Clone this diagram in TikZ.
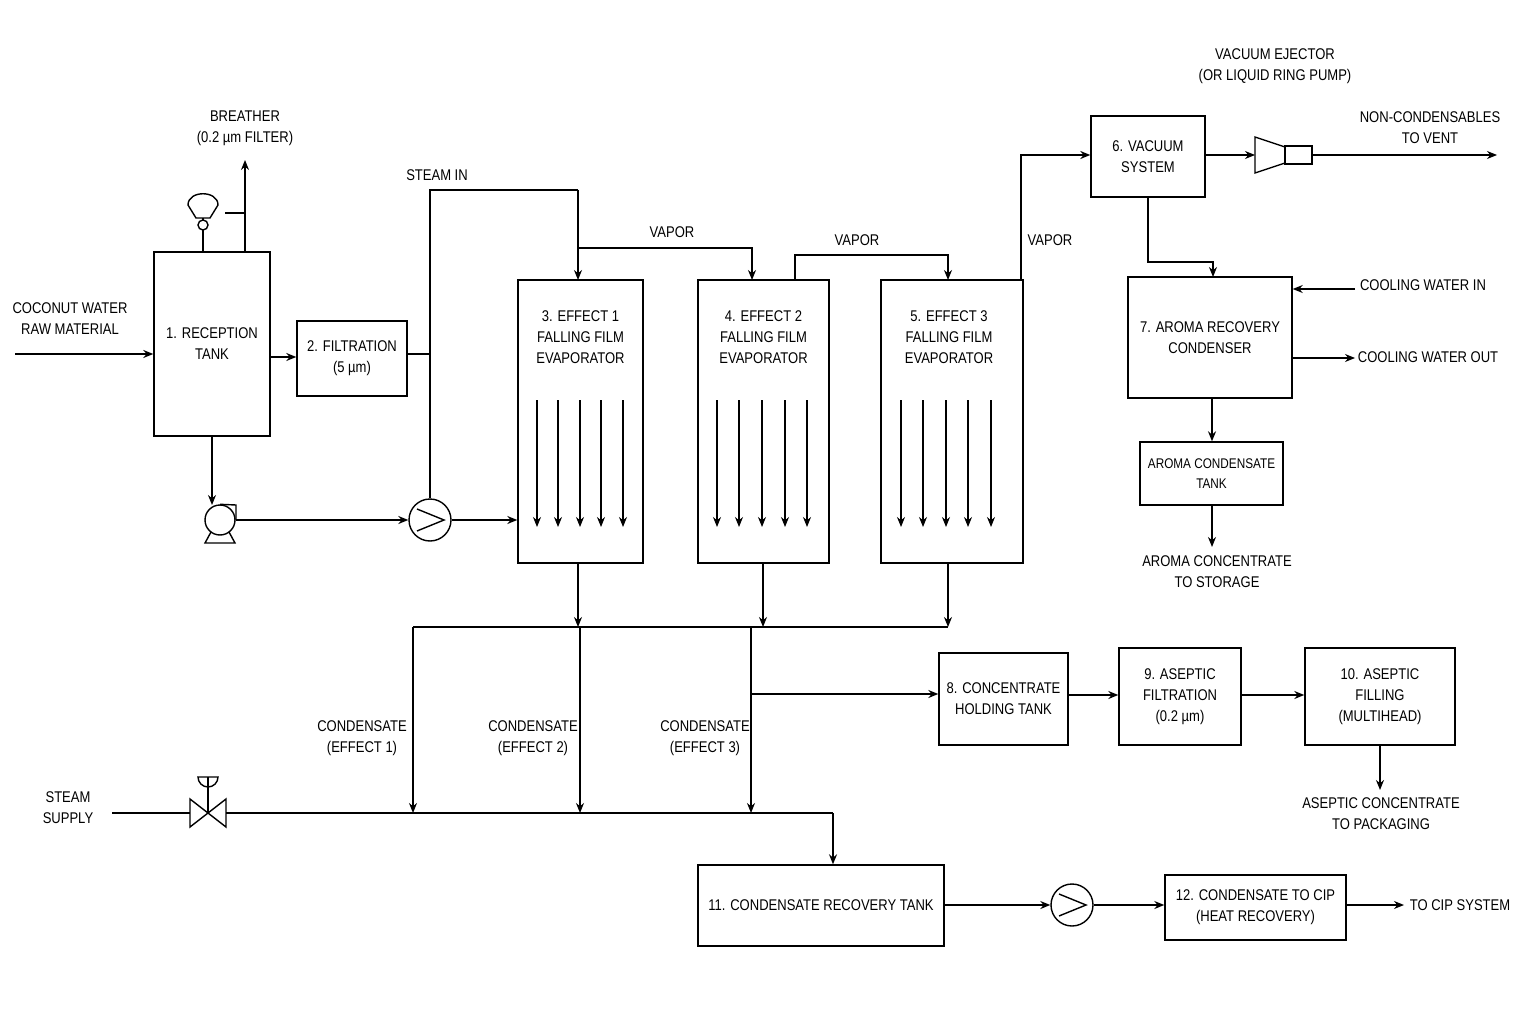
\documentclass[tikz,border=0pt]{standalone}
\usepackage{fontspec}
\setmainfont{Liberation Sans}[FakeStretch=0.84]
\usetikzlibrary{arrows.meta,calc}
\begin{document}
\begin{tikzpicture}[x=1pt,y=-1pt,line width=1.4pt,
 box/.style={draw,align=center,inner sep=0pt},
 lbl/.style={align=center,font=\fontsize{15.5}{21}\selectfont},
 ar/.style={-{Stealth[length=10pt,width=8pt]}},
 every node/.style={font=\fontsize{15.5}{21}\selectfont}]
\useasboundingbox (0,0) rectangle (1536,1024);
\fill[white] (0,0) rectangle (1536,1024);
% boxes
\node[box,minimum width=116pt,minimum height=184pt] (r) at (212,344) {1. RECEPTION\\TANK};
\node[box,minimum width=110pt,minimum height=75pt] (f) at (352,358.5) {2. FILTRATION\\(5 µm)};
\node[box,minimum width=125pt,minimum height=283pt] (e1) at (580.5,421.5) {};
\node[box,minimum width=131pt,minimum height=283pt] (e2) at (763.5,421.5) {};
\node[box,minimum width=142pt,minimum height=283pt] (e3) at (952,421.5) {};
\node[lbl,anchor=north] (e1t) at (580.5,307) {3. EFFECT 1\\FALLING FILM\\EVAPORATOR};
\node[lbl,anchor=north] (e2t) at (763.5,307) {4. EFFECT 2\\FALLING FILM\\EVAPORATOR};
\node[lbl,anchor=north] (e3t) at (949,307) {5. EFFECT 3\\FALLING FILM\\EVAPORATOR};
\foreach \x in {537,558,580,601,623}{\coordinate (a\x) at (\x,400); \coordinate (b\x) at (\x,527); \draw[ar,line width=1.1pt] (a\x) -- (b\x);}
\foreach \x in {717,739,762,785,807}{\coordinate (a\x) at (\x,400); \coordinate (b\x) at (\x,527); \draw[ar,line width=1.1pt] (a\x) -- (b\x);}
\foreach \x in {901,923,946,968,991}{\coordinate (a\x) at (\x,400); \coordinate (b\x) at (\x,527); \draw[ar,line width=1.1pt] (a\x) -- (b\x);}
\node[box,minimum width=114pt,minimum height=81pt] (v) at (1148,156.5) {6. VACUUM\\SYSTEM};
\node[box,minimum width=164pt,minimum height=121pt] (c7) at (1210,337.5) {7. AROMA RECOVERY\\CONDENSER};
\node[box,minimum width=143pt,minimum height=63pt,font=\fontsize{14}{20}\selectfont] (t) at (1211.5,473.5) {AROMA CONDENSATE\\TANK};
\node[box,minimum width=129pt,minimum height=92pt] (b8) at (1003.5,699) {8. CONCENTRATE\\HOLDING TANK};
\node[box,minimum width=122pt,minimum height=97pt] (b9) at (1180,696.5) {9. ASEPTIC\\FILTRATION\\(0.2 µm)};
\node[box,minimum width=150pt,minimum height=97pt] (b10) at (1380,696.5) {10. ASEPTIC\\FILLING\\(MULTIHEAD)};
\node[box,minimum width=246pt,minimum height=81pt] (b11) at (821,905.5) {11. CONDENSATE RECOVERY TANK};
\node[box,minimum width=181pt,minimum height=65pt] (b12) at (1255.5,907.5) {12. CONDENSATE TO CIP\\(HEAT RECOVERY)};
% labels
\node[lbl] (l1) at (70,319) {COCONUT WATER\\RAW MATERIAL};
\node[lbl] (l2) at (245,128) {BREATHER\\(0.2 µm FILTER)};
\node[lbl] (l3) at (437,175) {STEAM IN};
\node[lbl] (l4) at (672,232) {VAPOR};
\node[lbl] (l5) at (857,240) {VAPOR};
\node[lbl] (l6) at (1050,240) {VAPOR};
\node[lbl] (l7) at (1275,66) {VACUUM EJECTOR\\(OR LIQUID RING PUMP)};
\node[lbl] (l8) at (1430,128) {NON-CONDENSABLES\\TO VENT};
\node[lbl] (l9) at (1423,285) {COOLING WATER IN};
\node[lbl] (l10) at (1428,357) {COOLING WATER OUT};
\node[lbl] (l11) at (1217,572) {AROMA CONCENTRATE\\TO STORAGE};
\node[lbl] (l12) at (362,738) {CONDENSATE\\(EFFECT 1)};
\node[lbl] (l13) at (533,738) {CONDENSATE\\(EFFECT 2)};
\node[lbl] (l14) at (705,738) {CONDENSATE\\(EFFECT 3)};
\node[lbl] (l15) at (1381,814) {ASEPTIC CONCENTRATE\\TO PACKAGING};
\node[lbl] (l16) at (68,808) {STEAM\\SUPPLY};
\node[lbl] (l17) at (1460,905) {TO CIP SYSTEM};
% symbols
\node[draw,circle,minimum size=30pt,inner sep=0pt] (p1) at (220,520) {};
\draw (p1.north) -- (236,505) -- (236,520);
\draw (211,532) -- (205,543) -- (235,543) -- (229,532);
\node[draw,circle,minimum size=42pt,inner sep=0pt] (p2) at (430,520) {};
\draw (417,509) -- (444,520) -- (417,531);
\node[draw,circle,minimum size=42pt,inner sep=0pt] (p3) at (1072,905) {};
\draw (1059,894) -- (1086,905) -- (1059,916);
\coordinate (vl) at (208,813);
\draw (190,799) -- (226,827) -- (226,799) -- (190,827) -- cycle;
\draw (vl) -- (208,777);
\draw (198,777) arc (180:0:10) -- cycle;
% breather
\draw (188,205) .. controls (188,190) and (218,190) .. (218,205) -- (210,218) -- (196,218) -- cycle;
\draw (203,225) circle (5);
\draw (203,218) -- (203,220) (203,230) -- (203,252);
% ejector
\coordinate (ej) at (1255,155);
\draw (1255,137) -- (1285,147) -- (1285,163) -- (1255,173) -- cycle;
\draw (1285,146) rectangle (1312,164);
% connectors
\coordinate (in) at (15,354);
\draw[ar] (in) -- (r.west |- in);
\draw[ar] (245,252) -- (245,160);
\draw (225,213) -- (245,213);
\draw[ar] (r.east |- 0,357) -- (f.west |- 0,357);
\draw (f.east |- 0,354) -- (p2.north |- 0,354);
\draw (p2.north) -- (p2.north |- 0,190) -- (578,190);
\draw[ar] (578,190) -- (578,280);
\draw[ar] (r.south) -- (212,505);
\draw[ar] (p1.east) -- (p2.west);
\draw[ar] (p2.east) -- (e1.west |- p2.east);
\draw[ar] (578,248) -- (752,248) -- (752,280);
\draw[ar] (795,280) -- (795,255) -- (948,255) -- (948,280);
\draw[ar] (1021,280) -- (1021,155) -- (v.west |- 0,155);
\draw[ar] (v.east |- 0,155) -- (ej);
\draw[ar] (1312,155) -- (1497,155);
\draw[ar] (1148,197) -- (1148,262) -- (1213,262) -- (1213,277);
\draw[ar] (1355,289) -- (c7.east |- 0,289);
\draw[ar] (c7.east |- 0,358) -- (1355,358);
\draw[ar] (1212,398) -- (t.north -| 1212,0);
\draw[ar] (1212,505) -- (1212,547);
\draw[ar] (578,563) -- (578,627);
\draw[ar] (763,563) -- (763,627);
\draw[ar] (948,563) -- (948,627);
\draw (413,627) -- (948,627);
\draw[ar] (413,627) -- (413,813);
\draw[ar] (580,627) -- (580,813);
\draw[ar] (751,627) -- (751,813);
\draw[ar] (751,694) -- (b8.west |- 0,694);
\draw[ar] (b8.east |- 0,695) -- (b9.west |- 0,695);
\draw[ar] (b9.east |- 0,695) -- (b10.west |- 0,695);
\draw[ar] (1380,745) -- (1380,790);
\draw (112,813) -- (190,813);
\draw (226,813) -- (833,813);
\draw[ar] (833,813) -- (b11.north -| 833,0);
\draw[ar] (b11.east |- p3) -- (p3.west);
\draw[ar] (p3.east) -- (b12.west |- p3.east);
\draw[ar] (b12.east |- 0,905) -- (1404,905);
\end{tikzpicture}
\end{document}
